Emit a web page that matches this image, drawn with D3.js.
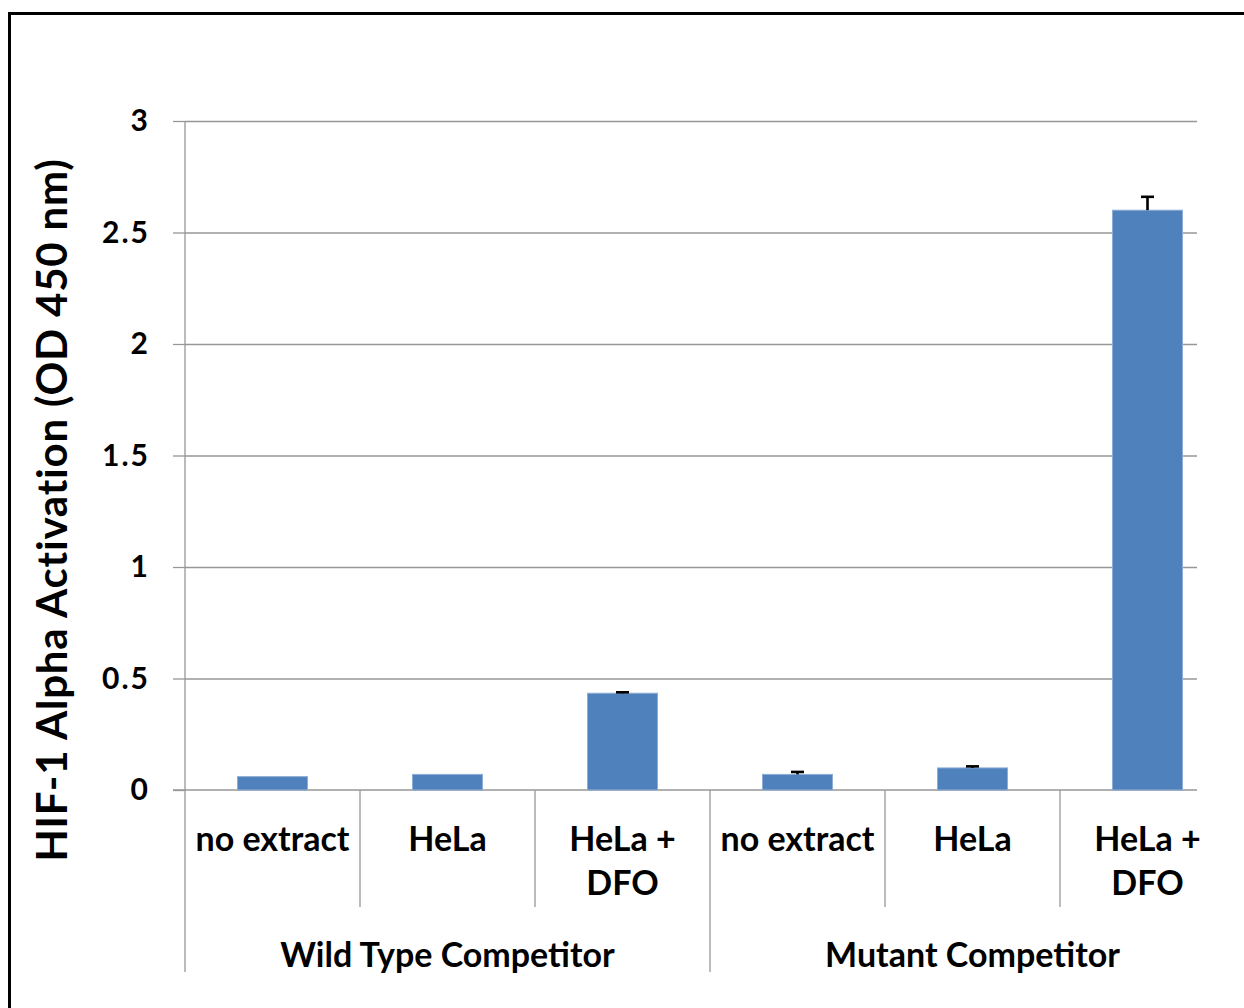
<!DOCTYPE html>
<html>
<head>
<meta charset="utf-8">
<script src="https://cdn.jsdelivr.net/npm/d3@7"></script>
<style>
  html, body { margin: 0; padding: 0; background: #ffffff; }
  svg { display: block; }
  text { font-family: Lato, "Open Sans", sans-serif; font-weight: 700; fill: #000; }
</style>
</head>
<body>
<svg id="chart" width="1244" height="1008"></svg>
<script>
// HIF-1 alpha activation per sample, grouped by competitor oligo
const categories = ["no extract", "HeLa", "HeLa +\nDFO", "no extract", "HeLa", "HeLa +\nDFO"];
const groups = ["Wild Type Competitor", "Mutant Competitor"];
const values = [0.06, 0.07, 0.434, 0.07, 0.099, 2.60];
const errors = [0, 0, 0.004, 0.011, 0.007, 0.06];
const yTicks = [0, 0.5, 1, 1.5, 2, 2.5, 3];
const yLabel = "HIF-1 Alpha Activation (OD 450 nm)";

const svg = d3.select("#chart");

const plot = { left: 185, right: 1235, gridRight: 1197, top: 121, bottom: 790 };

const x = d3.scaleBand()
  .domain(d3.range(categories.length))
  .range([plot.left, plot.right])
  .paddingInner(0.6)
  .paddingOuter(0.3);

const y = d3.scaleLinear().domain([0, 3]).range([plot.bottom, plot.top]);

const gridColor = "#979797";

// frame
svg.append("path")
  .attr("d", `M9.5,1008 V13.5 H1244`)
  .attr("fill", "none")
  .attr("stroke", "#000")
  .attr("stroke-width", 3);

// horizontal gridlines
svg.append("g")
  .attr("transform", `translate(${plot.left},0)`)
  .call(d3.axisLeft(y).tickValues(yTicks.slice(1)).tickSize(-(plot.gridRight - plot.left)).tickFormat(""))
  .call(g => g.select(".domain").remove())
  .call(g => g.selectAll("line").attr("stroke", gridColor).attr("stroke-width", 1.3));

// y axis with tick labels
const yAxis = svg.append("g")
  .attr("transform", `translate(${plot.left},0)`)
  .call(d3.axisLeft(y).tickValues(yTicks).tickSize(12).tickPadding(23).tickFormat(d => d));
yAxis.select(".domain").attr("d", `M0,${plot.top}V${plot.bottom}`).attr("stroke", gridColor).attr("stroke-width", 1.3);
yAxis.selectAll(".tick line").attr("stroke", gridColor).attr("stroke-width", 1.3);
yAxis.selectAll(".tick text")
  .attr("font-size", 30)
  .attr("letter-spacing", 2)
  .attr("font-family", "Lato, sans-serif")
  .attr("font-weight", 700)
  .attr("fill", "#000");

// x axis baseline
svg.append("line")
  .attr("x1", plot.left - 12).attr("x2", plot.gridRight)
  .attr("y1", y(0)).attr("y2", y(0))
  .attr("stroke", gridColor).attr("stroke-width", 1.3);

// category and group separators
const step = x.step();
const catBottom = 907, groupBottom = 972;
const bounds = d3.range(categories.length).map(i => plot.left + i * step);
svg.append("g").selectAll("line")
  .data(bounds)
  .join("line")
  .attr("x1", d => d).attr("x2", d => d)
  .attr("y1", y(0))
  .attr("y2", (d, i) => (i % 3 === 0 ? groupBottom : catBottom))
  .attr("stroke", gridColor).attr("stroke-width", 1.3);

// bars
svg.append("g").selectAll("rect")
  .data(values)
  .join("rect")
  .attr("x", (d, i) => x(i))
  .attr("width", x.bandwidth())
  .attr("y", d => y(d))
  .attr("height", d => y(0) - y(d))
  .attr("fill", "#4F81BD")
  .attr("stroke", "#8EADD6")
  .attr("stroke-width", 1);

// error bars (upper half)
const errG = svg.append("g").attr("stroke", "#000").attr("stroke-width", 2.6);
values.forEach((v, i) => {
  if (!errors[i]) return;
  const cx = x(i) + x.bandwidth() / 2;
  errG.append("line").attr("x1", cx).attr("x2", cx).attr("y1", y(v)).attr("y2", y(v + errors[i]));
  errG.append("line").attr("x1", cx - 6.5).attr("x2", cx + 6.5).attr("y1", y(v + errors[i])).attr("y2", y(v + errors[i]));
});

// category labels
const catLabels = svg.append("g");
categories.forEach((c, i) => {
  const t = catLabels.append("text")
    .attr("x", x(i) + x.bandwidth() / 2)
    .attr("y", 851)
    .attr("text-anchor", "middle")
    .attr("font-size", 34);
  c.split("\n").forEach((line, k) => {
    t.append("tspan").attr("x", x(i) + x.bandwidth() / 2).attr("dy", k === 0 ? 0 : 44).text(line);
  });
});

// group labels
groups.forEach((g, gi) => {
  svg.append("text")
    .attr("x", plot.left + step * 3 * gi + step * 1.5)
    .attr("y", 967)
    .attr("text-anchor", "middle")
    .attr("font-size", 34)
    .text(g);
});

// y axis title
svg.append("text")
  .attr("transform", `translate(67,510) rotate(-90)`)
  .attr("text-anchor", "middle")
  .attr("font-size", 42)
  .attr("letter-spacing", 0.8)
  .text(yLabel);
</script>
</body>
</html>
